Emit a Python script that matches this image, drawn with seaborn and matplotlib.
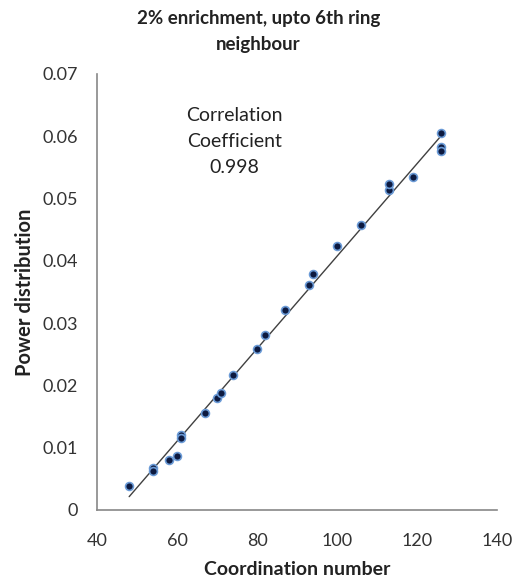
import numpy as np
import pandas as pd
import matplotlib
matplotlib.use("Agg")
import matplotlib.pyplot as plt
import seaborn as sns

coordination = [48, 54, 54, 58, 60, 61, 61, 67, 70, 71, 74, 80, 82, 87,
                93, 94, 100, 106, 113, 113, 119, 126, 126, 126]
power = [0.0038, 0.0067, 0.0063, 0.0080, 0.0087, 0.0120, 0.0115, 0.0156,
         0.0179, 0.0188, 0.0217, 0.0258, 0.0280, 0.0321, 0.0361, 0.0378,
         0.0423, 0.0457, 0.0513, 0.0523, 0.0534, 0.0605, 0.0582, 0.0577]
x_ticks = [40, 60, 80, 100, 120, 140]
y_ticks = [0, 0.01, 0.02, 0.03, 0.04, 0.05, 0.06, 0.07]
y_tick_labels = ["0", "0.01", "0.02", "0.03", "0.04", "0.05", "0.06", "0.07"]
title = "2% enrichment, upto 6th ring\nneighbour"
annotation = "Correlation\nCoefficient\n0.998"

df = pd.DataFrame({"x": coordination, "y": power})

sns.set_theme(style="white")
plt.rcParams["font.family"] = ["Lato", "DejaVu Sans"]

fig = plt.figure(figsize=(5.17, 5.82), dpi=100)
ax = fig.add_axes([0.188, 0.124, 0.773, 0.749])

# trendline
coef = np.polyfit(df["x"], df["y"], 1)
xs = np.array([df["x"].min(), df["x"].max()])
sns.lineplot(x=xs, y=np.polyval(coef, xs), ax=ax, color="#404040", linewidth=1.0)

sns.scatterplot(data=df, x="x", y="y", ax=ax, s=32, color="#0d1a40",
                edgecolor="#6a9ad6", linewidth=1.2, zorder=3)

ax.set_xlim(40, 140)
ax.set_ylim(0, 0.07)
ax.set_xticks(x_ticks)
ax.set_xticklabels([str(t) for t in x_ticks])
ax.set_yticks(y_ticks)
ax.set_yticklabels(y_tick_labels)
ax.tick_params(axis="x", length=0, pad=17, labelsize=13, colors="#333333")
ax.tick_params(axis="y", length=0, pad=14, labelsize=13, colors="#333333")

for s in ["top", "right"]:
    ax.spines[s].set_visible(False)
for s in ["left", "bottom"]:
    ax.spines[s].set_color("#888888")
    ax.spines[s].set_linewidth(1.2)

ax.set_xlabel("Coordination number", fontsize=14, fontweight="bold", labelpad=8, color="#222222")
ax.set_ylabel("Power distribution", fontsize=14.5, fontweight="bold", labelpad=5, color="#222222")
fig.text(0.5, 0.946, title, ha="center", va="center", fontsize=13.5,
         fontweight="bold", color="#222222", linespacing=1.6)
ax.text(74.3, 0.0592, annotation, ha="center", va="center", fontsize=14,
        color="#222222", linespacing=1.65)

fig.savefig("out.png", dpi=100)
